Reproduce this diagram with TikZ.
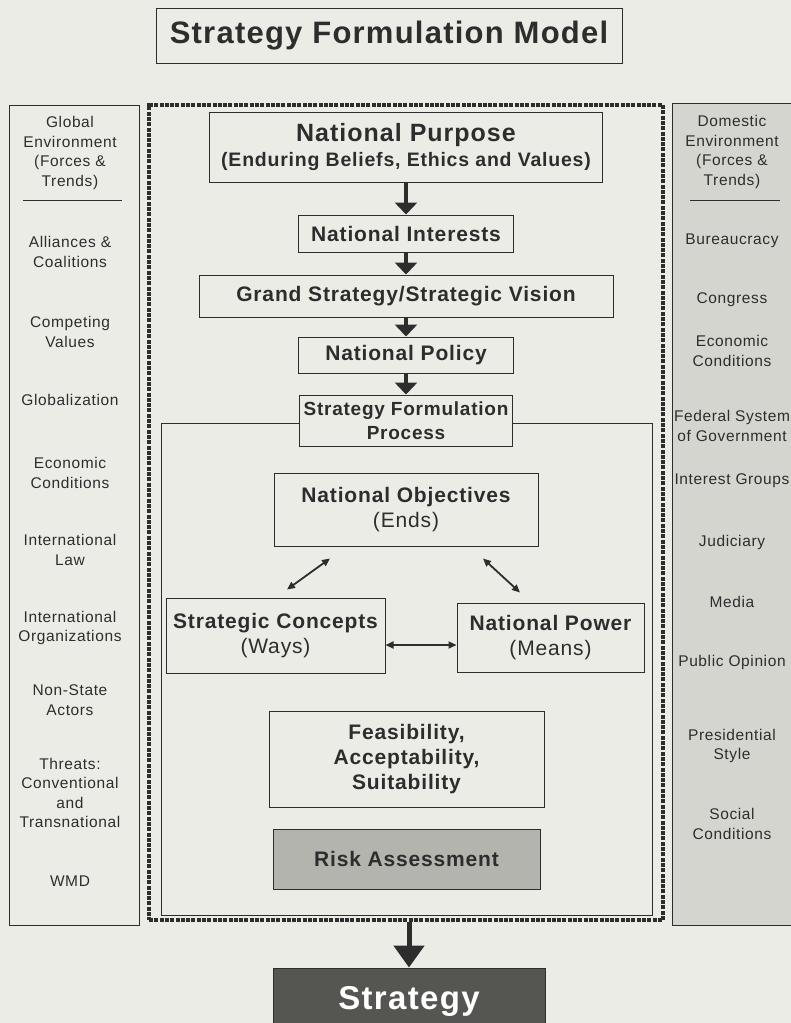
\documentclass[tikz,border=0pt]{standalone}
\usepackage{fontspec}
\setmainfont{Liberation Sans}[LetterSpace=4]
\usetikzlibrary{arrows.meta}
\definecolor{paper}{RGB}{236,236,231}
\definecolor{ink}{RGB}{45,45,45}
\definecolor{colgray}{RGB}{213,213,208}
\definecolor{riskgray}{RGB}{180,180,175}
\definecolor{stratgray}{RGB}{85,85,82}
\newcommand{\boxfont}{\fontsize{21}{25}\selectfont\bfseries}
\newcommand{\colfont}{\fontsize{15.5}{19.5}\selectfont}

\begin{document}
\begin{tikzpicture}[x=1pt,y=-1pt,
  box/.style={draw=ink, line width=1pt, fill=paper, text=ink, align=center, inner sep=0pt, font=\boxfont},
  small/.style={text=ink, align=center, inner sep=0pt, font=\colfont},
  bigarrow/.style={draw=ink, line width=4pt, -{Triangle[width=22pt,length=12pt]}},
  dblarrow/.style={draw=ink, line width=1.8pt, {Triangle[width=7pt,length=8pt]}-{Triangle[width=7pt,length=8pt]}}]
\fill[paper] (0,0) rectangle (791,1023);
\useasboundingbox (0,0) rectangle (791,1023);
\node[box, font=\fontsize{31}{36}\selectfont\bfseries, minimum width=466pt, minimum height=55pt] (title) at (389,35.5) {Strategy Formulation Model};
\node[draw=ink, line width=1pt, minimum width=130pt, minimum height=820pt] (globalcol) at (74,515) {};
\node[draw=ink, line width=1pt, fill=colgray, minimum width=130pt, minimum height=822pt] (domcol) at (737,514) {};
\node[small] (ghead) at (70,153) {Global\\Environment\\(Forces \&\\Trends)};
\draw[ink, line width=1pt] (23,200) -- (122,200);
\foreach \txt/\yy [count=\i] in {{Alliances \&\\Coalitions}/252, {Competing\\Values}/332, Globalization/400, {Economic\\Conditions}/473, {International\\Law}/550, {International\\Organizations}/628, {Non-State\\Actors}/700, {Threats:\\Conventional\\and\\Transnational}/793, WMD/881}
    \node[small] (g\i) at (70,\yy) {\txt};
\node[small] (dhead) at (732,152) {Domestic\\Environment\\(Forces \&\\Trends)};
\draw[ink, line width=1pt] (690,200) -- (780,200);
\foreach \txt/\yy [count=\i] in {Bureaucracy/241, Congress/300, {Economic\\Conditions}/351, {Federal System\\of Government}/426, Interest Groups/481, Judiciary/542, Media/602, Public Opinion/662, {Presidential\\Style}/746, {Social\\Conditions}/824}
    \node[small] (d\i) at (732,\yy) {\txt};
\node[draw=ink, line width=3.8pt, dash pattern=on 4pt off 1.3pt, minimum width=514pt, minimum height=815pt] (frame) at (406,512.5) {};
\node[draw=ink, line width=1pt, minimum width=491pt, minimum height=492pt] (procarea) at (406.5,669) {};
\node[box, minimum width=393pt, minimum height=70pt] (purpose) at (406,147) {{\fontsize{25}{30}\selectfont National Purpose}\\{\fontsize{19.5}{24}\selectfont(Enduring Beliefs, Ethics and Values)}};
\node[box, minimum width=215pt, minimum height=37pt] (interests) at (406,233.5) {National Interests};
\node[box, minimum width=414pt, minimum height=42pt] (grand) at (406,296) {Grand Strategy/Strategic Vision};
\node[box, minimum width=215pt, minimum height=36pt] (policy) at (406,355) {National Policy};
\node[box, font=\fontsize{19}{24}\selectfont\bfseries, minimum width=213pt, minimum height=51pt] (process) at (406,420.5) {Strategy Formulation\\Process};
\node[box, minimum width=264pt, minimum height=73pt] (objectives) at (406,509.5) {National Objectives\\{\mdseries (Ends)}};
\node[box, minimum width=219pt, minimum height=75pt] (concepts) at (275.5,635.5) {Strategic Concepts\\{\mdseries (Ways)}};
\node[box, minimum width=187pt, minimum height=69pt] (power) at (550.5,637.5) {National Power\\{\mdseries (Means)}};
\node[box, minimum width=275pt, minimum height=96pt] (feasible) at (406.5,759) {Feasibility,\\Acceptability,\\Suitability};
\node[box, fill=riskgray, minimum width=267pt, minimum height=60pt] (risk) at (406.5,859) {Risk Assessment};
\node[box, fill=stratgray, text=white, font=\fontsize{33}{38}\selectfont\bfseries, minimum width=272pt, minimum height=66pt] (strategy) at (409,1001) {Strategy};
\draw[bigarrow] (purpose) -- (interests);
\draw[bigarrow] (interests) -- (grand);
\draw[bigarrow] (grand) -- (policy);
\draw[bigarrow] (policy) -- (process);
\draw[dblarrow] ([xshift=-76pt,yshift=-12pt]objectives.south) -- ([xshift=11.5pt,yshift=8pt]concepts.north);
\draw[dblarrow] ([xshift=77pt,yshift=-12pt]objectives.south) -- ([xshift=-30.5pt,yshift=10pt]power.north);
\draw[dblarrow] ([yshift=-9.5pt]concepts.east) -- ([yshift=-9.5pt]concepts.east -| power.west);
\draw[draw=ink, line width=5pt, -{Triangle[width=30pt,length=22pt]}] (frame.south -| strategy) -- (strategy);
\end{tikzpicture}
\end{document}
